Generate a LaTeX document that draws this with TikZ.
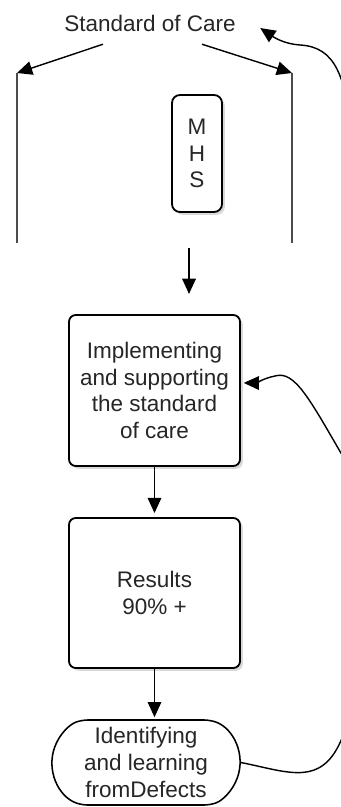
\documentclass[tikz,border=0pt]{standalone}
\usepackage{fontspec}
\setmainfont{Liberation Sans}
\usetikzlibrary{arrows.meta,shadows,shapes.misc}

\begin{document}
\begin{tikzpicture}[x=0.025cm, y=-0.025cm,
        every node/.style={font=\fontsize{16}{18.9}\selectfont, text=black!85},
        box/.style={draw, line width=1.3pt, rounded corners=0.17cm, fill=white, align=center,
            drop shadow={opacity=0.3, shadow xshift=0.07cm, shadow yshift=-0.07cm}},
        pill/.style={draw, line width=1.1pt, rounded rectangle, rounded rectangle arc length=140,
            rounded corners=0.15cm, fill=white, align=center},
        arr/.style={-{Triangle[length=0.38cm, width=0.34cm]}, line width=1pt},
        vline/.style={line width=0.9pt, black!70}]

        \useasboundingbox (0,0) rectangle (341,807);
        \clip (0,0) rectangle (341,807);

        \node (soc) at (150,23) {Standard of Care};

        \node[box, rounded corners=0.2cm, minimum width=1.25cm, minimum height=2.925cm] (mhs)
        at (197,153.5) {M\\H\\S};

        \node[box, minimum width=4.275cm, minimum height=3.775cm] (impl)
        at (154.5,390.5) {Implementing\\and supporting\\the standard\\of care};

        \node[box, minimum width=4.275cm, minimum height=3.75cm] (res)
        at (154.5,593) {Results\\90\% +};

        \node[pill, minimum width=4.7cm, minimum height=2.125cm, inner xsep=0pt] (ident)
        at (146,762.5) {Identifying\\and learning\\fromDefects};

        \coordinate (lt) at (17,73);
        \coordinate (lb) at (17,243);
        \coordinate (rt) at (292,73);
        \coordinate (rb) at (292,243);
        \coordinate (offright) at (352,140);

        % #######################################

        \draw[vline] (lt) -- (lb);
        \draw[vline] (rt) -- (rb);

        \draw[arr] (soc.south) ++(-47,8) -- (lt);
        \draw[arr] (soc.south) ++(52,8) -- (rt);
        \draw[arr] (mhs.south) ++(-8,35) -- ++(0,46);
        \draw[arr, shorten >=0.1cm] (impl) -- (res);
        \draw[arr, shorten >=0.05cm] (res.south) -- (res.south |- ident.north);

        \draw[arr, shorten >=2pt] (ident.east) .. controls (290,772) and (325,790) .. (345,730)
        .. controls (365,670) and (380,520) .. (345,460)
        .. controls (310,400) and (295,370) .. (275,376)
        .. controls (265,378) and (255,383) .. ([yshift=0.19cm]impl.east);

        \draw[arr] (offright) .. controls (346,75) and (335,47) .. (300,45)
        .. controls (285,44) and (275,38) .. ([shift={(0.49cm,-0.125cm)}]soc.east);

    \end{tikzpicture}
\end{document}
